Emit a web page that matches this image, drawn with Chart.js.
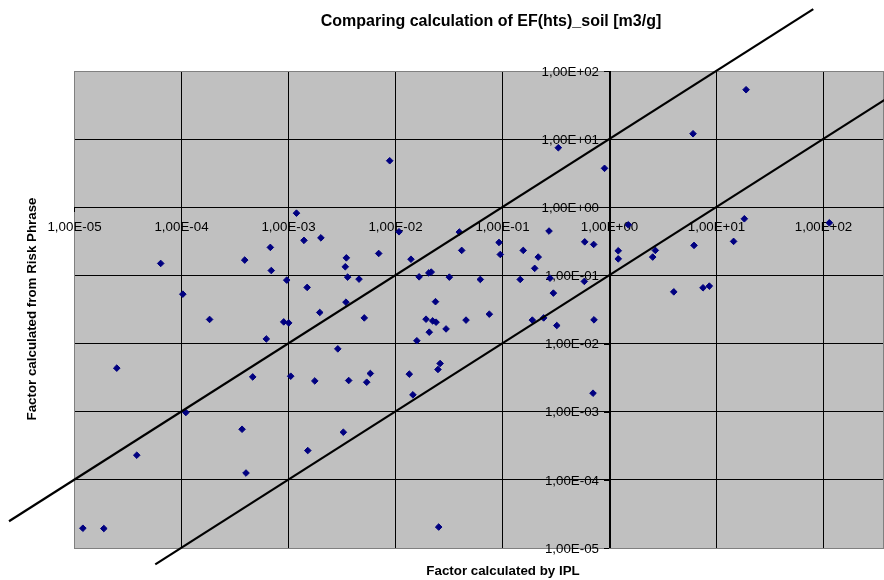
<!DOCTYPE html>
<html>
<head>
<meta charset="utf-8">
<title>Comparing calculation of EF(hts)_soil [m3/g]</title>
<script src="https://cdn.jsdelivr.net/npm/chart.js@4.4.1/dist/chart.umd.min.js"></script>
<style>
  html, body { margin: 0; padding: 0; background: #fff; }
  #wrap { width: 884px; height: 580px; position: relative; }
</style>
</head>
<body>
<div id="wrap"><canvas id="chart"></canvas></div>
<script>
// factor from IPL (x) vs factor from risk phrase (y)
const iplFactor = [
  1.2e-3, 1.41e-3, 2.03e-3, 6.84e-4, 3.94e-4, 6.46e-5, 6.98e-4, 9.73e-4, 1.51e-3, 1.04e-4,
  1.98e-3, 8.92e-3, 0.336, 0.908, 0.0109, 0.0399, 0.275, 0.593, 0.719, 0.0938,
  7.04e-3, 0.042, 0.158, 0.0964, 3.51e-3, 0.0141, 0.218, 3.43e-3, 0.202, 3.61e-3,
  4.61e-3, 0.0168, 0.0207, 0.0218, 0.0322, 0.0627, 0.148, 0.281, 0.588, 0.302,
  3.48e-3, 0.0239, 19.1, 6.10, 18.4, 114.6, 1.515, 14.6, 6.23, 1.22,
  2.71, 1.22, 2.56, 4.03, 7.56, 8.66, 1.85e-4, 9.12e-4, 1.015e-3, 6.27e-4,
  2.92e-3, 2.51e-5, 4.68e-4, 1.06e-3, 1.78e-3, 1.11e-4, 3.72e-4, 3.86e-5, 1.53e-3, 4.05e-4,
  1.21e-5, 1.90e-5, 5.16e-3, 0.0195, 0.0225, 0.0242, 0.0461, 0.0761, 0.192, 0.245,
  0.325, 0.724, 0.0209, 0.0300, 0.0160, 0.0264, 0.0252, 5.88e-3, 3.69e-3, 5.44e-3,
  0.0136, 0.0147, 0.709, 3.29e-3, 0.0256
];
const riskPhraseFactor = [
  0.82, 0.327, 0.356, 0.258, 0.168, 0.150, 0.118, 0.0853, 0.0667, 0.0531,
  0.0286, 4.82, 7.48, 3.73, 0.437, 0.433, 0.448, 0.311, 0.285, 0.305,
  0.210, 0.233, 0.233, 0.203, 0.181, 0.173, 0.186, 0.134, 0.127, 0.0944,
  0.0883, 0.0953, 0.109, 0.112, 0.0944, 0.0873, 0.0873, 0.0912, 0.0817, 0.0550,
  0.0405, 0.0412, 53.1, 12.0, 0.678, 0.592, 0.553, 0.316, 0.276, 0.230,
  0.233, 0.175, 0.186, 0.0574, 0.0658, 0.0697, 0.0226, 0.0208, 0.0201, 0.0117,
  8.36e-3, 4.36e-3, 3.24e-3, 3.32e-3, 2.83e-3, 9.73e-4, 5.53e-4, 2.30e-4, 2.69e-4, 1.26e-4,
  1.95e-5, 1.93e-5, 0.0238, 0.0228, 0.0215, 0.0206, 0.0221, 0.0270, 0.0221, 0.0238,
  0.0184, 0.0223, 0.0147, 0.0164, 0.0110, 5.10e-3, 4.17e-3, 3.64e-3, 2.87e-3, 2.71e-3,
  3.56e-3, 1.77e-3, 1.87e-3, 5.00e-4, 2.03e-5
];

// the two factor-of-ten guide lines (y = 10x and y = x/10)
const upperLineX = [2.47e-6, 81.1];
const upperLineY = [2.47e-5, 811];
const lowerLineX = [5.75e-5, 398];
const lowerLineY = [5.75e-6, 39.8];

const xTickValues = [1e-5, 1e-4, 1e-3, 1e-2, 1e-1, 1, 10, 100];
const xTickLabels = ['1,00E-05', '1,00E-04', '1,00E-03', '1,00E-02', '1,00E-01', '1,00E+00', '1,00E+01', '1,00E+02'];
const yTickValues = [1e-5, 1e-4, 1e-3, 1e-2, 1e-1, 1, 10, 100];
const yTickLabels = ['1,00E-05', '1,00E-04', '1,00E-03', '1,00E-02', '1,00E-01', '1,00E+00', '1,00E+01', '1,00E+02'];

const toPoints = (xs, ys) => xs.map((x, i) => ({ x: x, y: ys[i] }));

const FONT = '"Liberation Sans", Arial, sans-serif';

// Excel-like plot area, axes crossing at (1, 1), titles
const excelFrame = {
  id: 'excelFrame',
  beforeDraw(chart) {
    const { ctx, chartArea: a } = chart;
    ctx.save();
    ctx.fillStyle = '#ffffff';
    ctx.fillRect(0, 0, chart.width, chart.height);
    ctx.fillStyle = '#c0c0c0';
    ctx.fillRect(a.left, a.top, a.right - a.left, a.bottom - a.top);
    ctx.restore();
  },
  beforeDatasetsDraw(chart) {
    const { ctx, chartArea: a } = chart;
    const xs = chart.scales.x, ys = chart.scales.y;
    const axX = Math.round(xs.getPixelForValue(1));
    const axY = Math.round(ys.getPixelForValue(1));
    ctx.save();
    // plot area border
    ctx.strokeStyle = '#808080';
    ctx.lineWidth = 1;
    ctx.strokeRect(a.left + 0.5, a.top + 0.5, a.right - a.left - 1, a.bottom - a.top);
    // axis lines
    ctx.fillStyle = '#000';
    ctx.fillRect(axX, a.top, 2, a.bottom - a.top);
    ctx.fillRect(a.left, axY, a.right - a.left, 1);
    yTickValues.forEach(v => {
      const py = Math.round(ys.getPixelForValue(v));
      ctx.fillRect(axX - 5, py, 5, 1);
    });
    xTickValues.forEach(v => {
      const px = Math.round(xs.getPixelForValue(v));
      ctx.fillRect(px, axY, 1, 5);
    });
    // tick labels
    ctx.font = '13.33px ' + FONT;
    ctx.fillStyle = '#000';
    ctx.textAlign = 'center';
    ctx.textBaseline = 'middle';
    xTickValues.forEach((v, i) => {
      ctx.fillText(xTickLabels[i], xs.getPixelForValue(v) + 0.5, axY + 20);
    });
    ctx.textAlign = 'right';
    yTickValues.forEach((v, i) => {
      ctx.fillText(yTickLabels[i], axX - 10, ys.getPixelForValue(v) + 1);
    });
    ctx.restore();
  },
  afterDraw(chart) {
    const { ctx } = chart;
    ctx.save();
    ctx.fillStyle = '#000';
    ctx.textAlign = 'center';
    ctx.textBaseline = 'middle';
    ctx.font = 'bold 16px ' + FONT;
    ctx.fillText('Comparing calculation of EF(hts)_soil [m3/g]', 491, 22);
    ctx.font = 'bold 13.33px ' + FONT;
    ctx.fillText('Factor calculated by IPL', 503, 571);
    ctx.translate(32, 309);
    ctx.rotate(-Math.PI / 2);
    ctx.fillText('Factor calculated from Risk Phrase', 0, 0);
    ctx.restore();
  }
};

const decadeTicks = values => scale => {
  scale.ticks = values.map(v => ({ value: v }));
};

new Chart(document.getElementById('chart'), {
  type: 'scatter',
  data: {
    datasets: [
      {
        label: 'y = 10x',
        data: toPoints(upperLineX, upperLineY),
        showLine: true,
        borderColor: '#000',
        borderWidth: 2.2,
        pointRadius: 0,
        clip: false
      },
      {
        label: 'y = x/10',
        data: toPoints(lowerLineX, lowerLineY),
        showLine: true,
        borderColor: '#000',
        borderWidth: 2.2,
        pointRadius: 0,
        clip: false
      },
      {
        label: 'EF(hts)_soil',
        data: toPoints(iplFactor, riskPhraseFactor),
        pointStyle: 'rectRot',
        pointRadius: 3.3,
        borderWidth: 1,
        backgroundColor: '#000080',
        borderColor: '#000080'
      }
    ]
  },
  options: {
    responsive: true,
    maintainAspectRatio: false,
    animation: false,
    devicePixelRatio: 1,
    layout: { autoPadding: false, padding: { left: 74, top: 71, right: 0, bottom: 32 } },
    plugins: {
      legend: { display: false },
      tooltip: { enabled: false },
      title: { display: false }
    },
    scales: {
      x: {
        type: 'logarithmic',
        min: 1e-5,
        max: 371.5,
        afterBuildTicks: decadeTicks(xTickValues),
        ticks: { display: false },
        grid: { color: '#000', lineWidth: 1, drawTicks: false },
        border: { display: false }
      },
      y: {
        type: 'logarithmic',
        min: 1e-5,
        max: 100,
        afterBuildTicks: decadeTicks(yTickValues),
        ticks: { display: false },
        grid: { color: '#000', lineWidth: 1, drawTicks: false },
        border: { display: false }
      }
    }
  },
  plugins: [excelFrame]
});
</script>
</body>
</html>
